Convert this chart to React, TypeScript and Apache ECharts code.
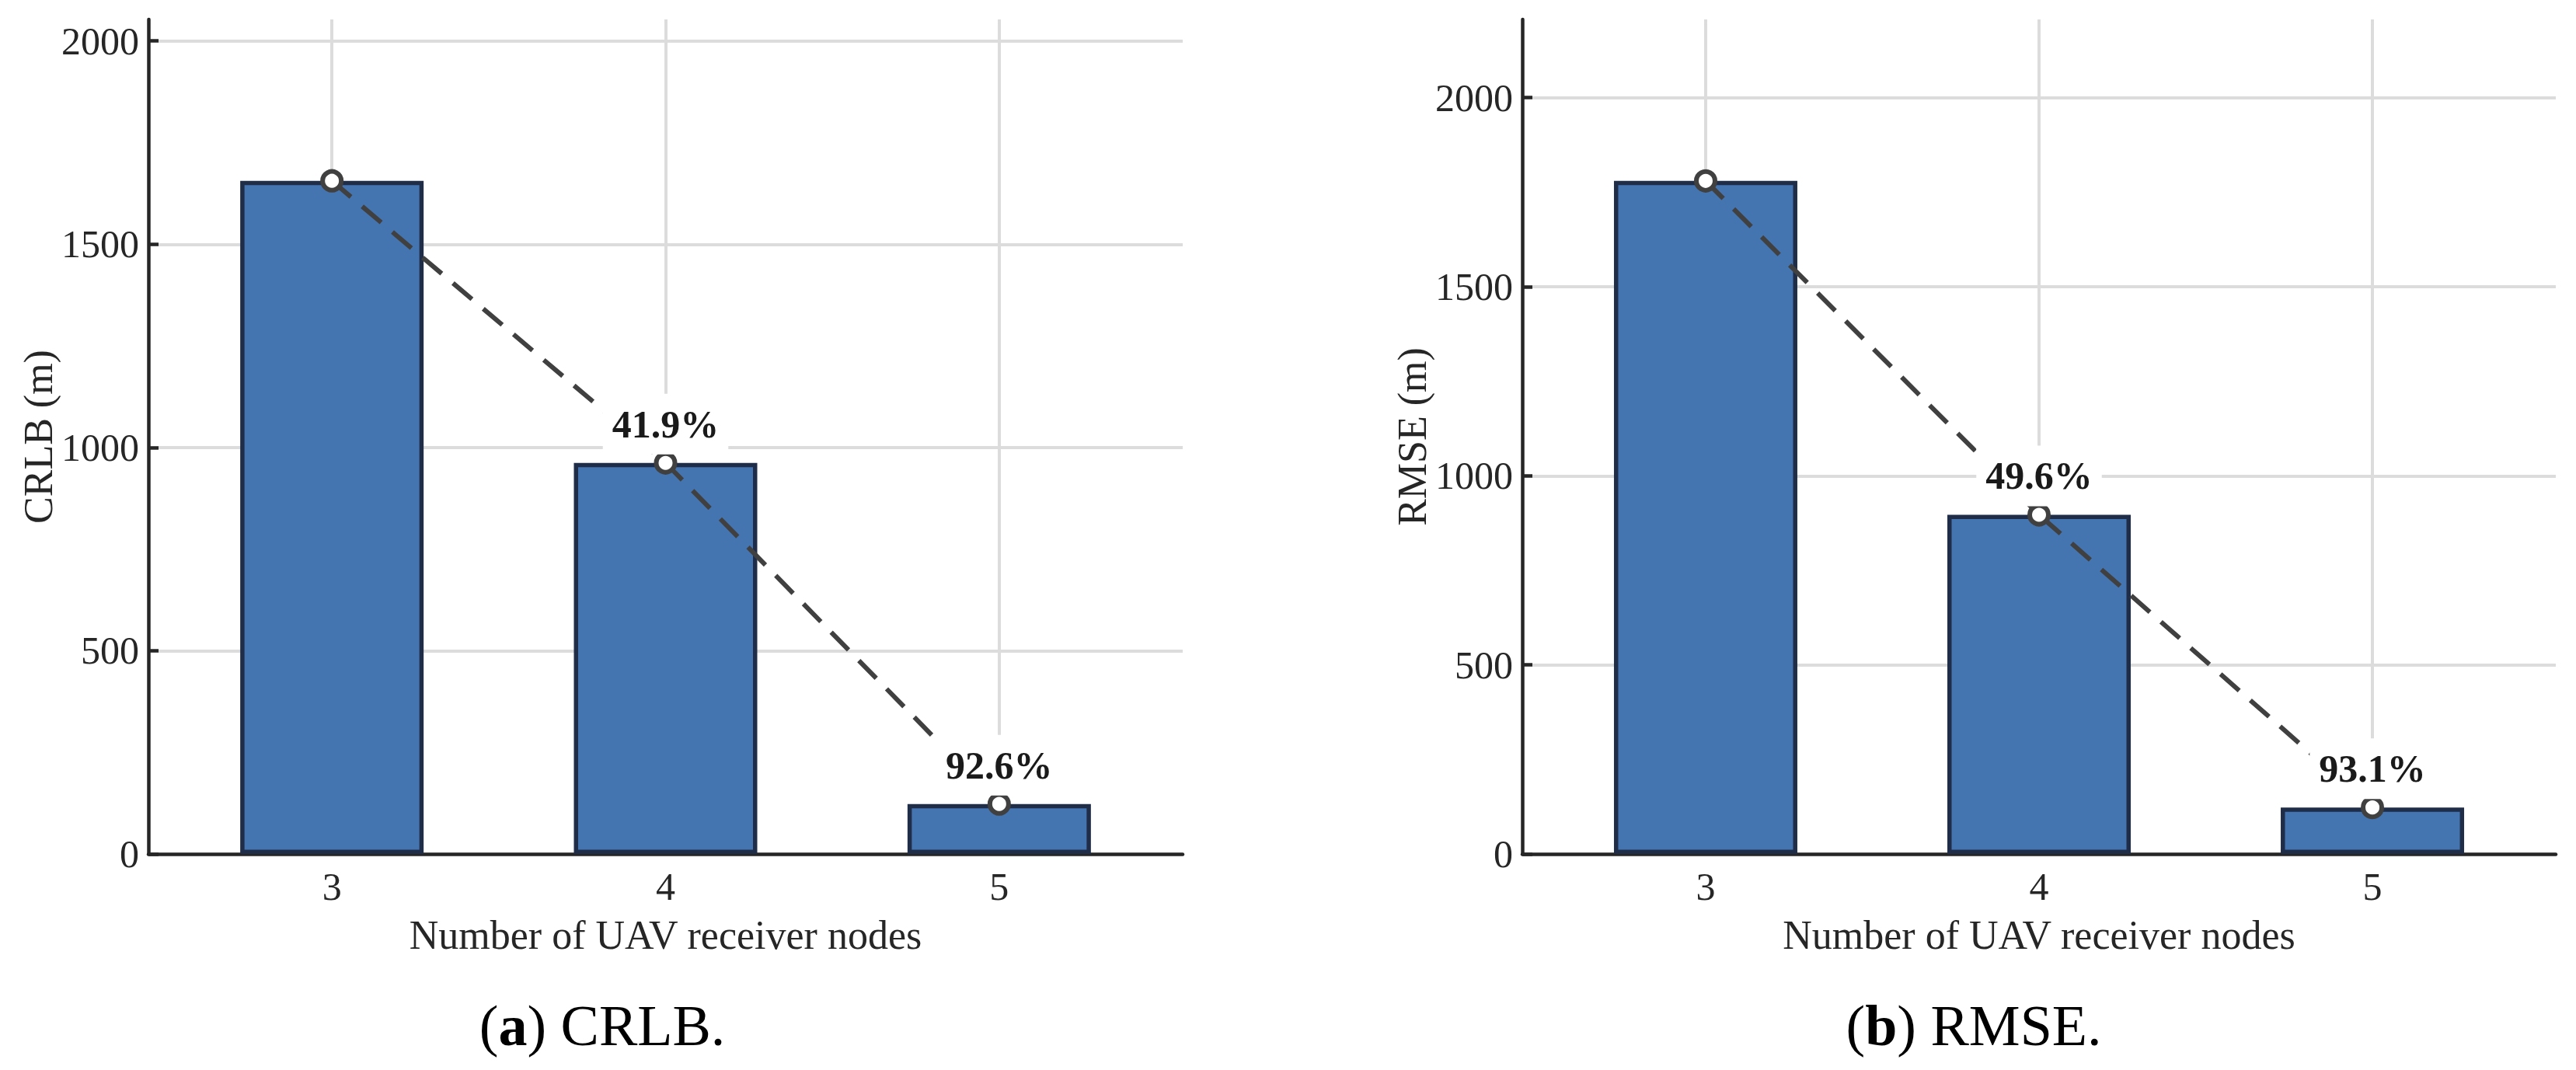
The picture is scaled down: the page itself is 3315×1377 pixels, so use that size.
import React, { useEffect, useRef } from "react";
import * as echarts from "echarts";

// ---- data ----
const nodeCounts = ["3", "4", "5"];
const crlbValues = [1656, 962, 123];
const rmseValues = [1780, 897, 123];
const crlbLabels = ["", "41.9%", "92.6%"];
const rmseLabels = ["", "49.6%", "93.1%"];
const yTicks = [0, 500, 1000, 1500, 2000];
const yMaxes = [2053, 2207];
const yNames = ["CRLB (m)", "RMSE (m)"];
const xName = "Number of UAV receiver nodes";
const captionLetters = ["a", "b"];
const captionTexts = ["CRLB.", "RMSE."];

const FONT = "'Liberation Serif', 'Times New Roman', serif";
const W = 3315;
const H = 1377;

const gridBoxes = [
  { left: 191, top: 25, width: 1331, height: 1074 },
  { left: 1959, top: 25, width: 1330, height: 1074 },
];
const captionX = [775, 2540];

function buildOption() {
  const seriesValues = [crlbValues, rmseValues];
  const seriesLabels = [crlbLabels, rmseLabels];
  const catIdx = nodeCounts.map((_, k) => k);

  const xAxis = gridBoxes.map((_, i) => ({
    type: "value",
    gridIndex: i,
    min: -0.55,
    max: 2.55,
    axisLine: { show: true, onZero: false, lineStyle: { color: "#262626", width: 4.5 } },
    axisTick: { show: false, customValues: catIdx },
    axisLabel: {
      customValues: catIdx,
      formatter: (v: number) => nodeCounts[Math.round(v)] ?? "",
      fontSize: 50,
      fontFamily: FONT,
      color: "#262626",
      margin: 17,
    },
    splitLine: { show: true, lineStyle: { color: "#dcdcdc", width: 4 } },
    name: xName,
    nameLocation: "middle",
    nameGap: 78,
    nameTextStyle: { fontSize: 52, fontFamily: FONT, color: "#262626" },
  }));

  const yAxis = gridBoxes.map((_, i) => ({
    type: "value",
    gridIndex: i,
    min: 0,
    max: yMaxes[i],
    axisLine: { show: true, onZero: false, lineStyle: { color: "#262626", width: 4.5 } },
    axisTick: {
      show: true,
      inside: true,
      length: 13,
      customValues: yTicks,
      lineStyle: { color: "#262626", width: 4.5 },
    },
    axisLabel: {
      customValues: yTicks,
      formatter: (v: number) => String(v),
      fontSize: 50,
      fontFamily: FONT,
      color: "#262626",
      margin: 12,
    },
    splitLine: { show: true, lineStyle: { color: "#dcdcdc", width: 4 } },
    name: yNames[i],
    nameLocation: "middle",
    nameGap: 115,
    nameTextStyle: { fontSize: 52, fontFamily: FONT, color: "#262626" },
  }));

  const series: any[] = [];
  gridBoxes.forEach((_, i) => {
    const vals = seriesValues[i];
    const labs = seriesLabels[i];
    series.push({
      type: "bar",
      xAxisIndex: i,
      yAxisIndex: i,
      data: vals.map((v, k) => [k, v]),
      barWidth: 236,
      itemStyle: { color: "#4575b0", borderColor: "#1f2d48", borderWidth: 5.5 },
      z: 2,
    });
    series.push({
      type: "line",
      xAxisIndex: i,
      yAxisIndex: i,
      data: vals.map((v, k) => ({
        value: [k, v],
        label: { show: labs[k] !== "" },
      })),
      lineStyle: { color: "#404040", width: 6, type: [32, 19] },
      symbol: "circle",
      symbolSize: 24,
      itemStyle: { color: "#ffffff", borderColor: "#404040", borderWidth: 6 },
      label: {
        show: true,
        position: "top",
        distance: -4,
        formatter: (p: any) => labs[p.dataIndex],
        fontSize: 50,
        fontWeight: "bold",
        fontFamily: FONT,
        color: "#1a1a1a",
        backgroundColor: "#ffffff",
        padding: [14, 12, 14, 12],
      },
      z: 3,
    });
  });

  const graphic = captionLetters.map((letter, i) => ({
    type: "text",
    x: captionX[i],
    y: 1320,
    z: 10,
    style: {
      text: `{n|(}{b|${letter}}{n|) ${captionTexts[i]}}`,
      rich: {
        n: { fontSize: 74, fontFamily: FONT, color: "#000000" },
        b: { fontSize: 74, fontFamily: FONT, fontWeight: "bold", color: "#000000" },
      },
      textAlign: "center",
      textVerticalAlign: "middle",
      align: "center",
      verticalAlign: "middle",
    },
  }));

  return {
    animation: false,
    backgroundColor: "#ffffff",
    grid: gridBoxes.map((g) => ({ ...g, containLabel: false })),
    xAxis,
    yAxis,
    series,
    graphic,
  };
}

export default function App() {
  const ref = useRef<HTMLDivElement>(null);
  useEffect(() => {
    if (!ref.current) return;
    const chart = echarts.init(ref.current, undefined, { renderer: "svg", width: W, height: H });
    chart.setOption(buildOption() as any);
    return () => chart.dispose();
  }, []);
  return (
    <div
      ref={ref}
      style={{ position: "fixed", left: 0, top: 0, width: W, height: H, background: "#fff" }}
    />
  );
}
